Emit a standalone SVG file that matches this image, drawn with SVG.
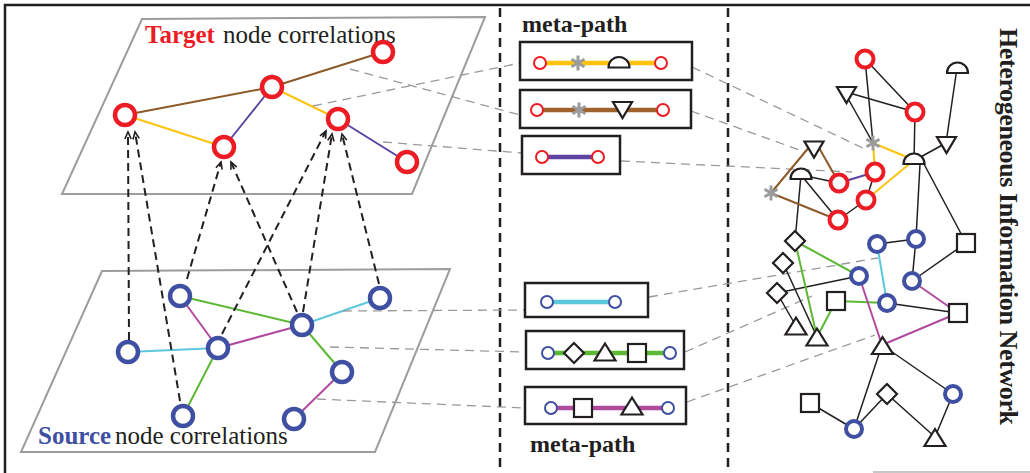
<svg xmlns="http://www.w3.org/2000/svg" width="1030" height="473" viewBox="0 0 1030 473">
  <defs>
    <style>
      .frame{fill:none;stroke:#231f20;stroke-width:2.5}
      .divider{fill:none;stroke:#231f20;stroke-width:2.5;stroke-dasharray:9 6}
      .plane{fill:#fff;stroke:#9d9d9d;stroke-width:2}
      .tn{fill:#fff;stroke:#ed1c24;stroke-width:4.5}
      .sn{fill:#fff;stroke:#3f4fa2;stroke-width:4.5}
      .hr{fill:#fff;stroke:#ed1c24;stroke-width:4}
      .hb{fill:#fff;stroke:#3f4fa2;stroke-width:4}
      .mr{fill:#fff;stroke:#ed1c24;stroke-width:2}
      .mb{fill:#fff;stroke:#3f4fa2;stroke-width:2}
      .shape{fill:#fff;stroke:#231f20;stroke-width:2.2}
      .box{fill:#fff;stroke:#231f20;stroke-width:2.5}
      .e{fill:none;stroke-width:2}
      .k{stroke:#231f20;stroke-width:1.5}
      .brown{stroke:#8c5a28}
      .yellow{stroke:#ffc20e}
      .purple{stroke:#5b45a0}
      .green{stroke:#5db833}
      .magenta{stroke:#b04a9f}
      .cyan{stroke:#5bc8dc}
      .mp{fill:none;stroke-width:4.5}
      .arrow{fill:none;stroke:#231f20;stroke-width:2;stroke-dasharray:8 5;marker-end:url(#ah)}
      .link{fill:none;stroke:#9a9a9a;stroke-width:1.3;stroke-dasharray:9 6}
      .title{font-family:"Liberation Serif","Times New Roman",serif;font-size:25px}
      .mtitle{font-family:"Liberation Serif","Times New Roman",serif;font-size:24px;font-weight:bold;fill:#231f20}
    </style>
    <marker id="ah" markerUnits="userSpaceOnUse" markerWidth="10" markerHeight="10" refX="8" refY="4" orient="auto" viewBox="0 0 10 8">
      <path d="M1,0.8 L8,4 L1,7.2" fill="none" stroke="#231f20" stroke-width="1.6" stroke-dasharray="none"/>
    </marker>
    <g id="ast" fill="none" stroke="#9b9b9b" stroke-width="3">
      <path d="M0,-7.5 V7.5 M-6.5,-3.8 L6.5,3.8 M-6.5,3.8 L6.5,-3.8"/>
    </g>
    <path id="dome" class="shape" d="M-10.5,0 A10.5,10.5 0 0 1 10.5,0 Z"/>
    <polygon id="tdown" class="shape" points="-9.5,-8 9.5,-8 0,8"/>
    <polygon id="tup" class="shape" points="0,-8.5 -10.5,8.5 10.5,8.5"/>
    <polygon id="dia" class="shape" points="0,-10 10,0 0,10 -10,0"/>
    <rect id="sq" class="shape" x="-9" y="-9" width="18" height="18"/>
  </defs>

  <rect width="1030" height="473" fill="#fff"/>

  <!-- outer frame and panel dividers -->
  <g id="frame">
    <path class="frame" d="M5,473 V5 H1030"/>
    <path d="M873,472 H1030" stroke="#b5b5b5" stroke-width="1.5"/>
    <line class="divider" x1="500" y1="8" x2="500" y2="473"/>
    <line class="divider" x1="728" y1="8" x2="728" y2="473"/>
  </g>

  <!-- planes -->
  <g id="target-plane">
    <polygon class="plane" points="142,19 485,17 412,194 62,194"/>
    <text class="title" x="145" y="43"><tspan fill="#ed1c24" font-weight="bold">Target</tspan><tspan fill="#231f20" x="223">node correlations</tspan></text>
  </g>
  <g id="source-plane">
    <polygon class="plane" points="102,271 450,269 375,452 21,452"/>
    <text class="title" x="38" y="444"><tspan fill="#3f4fa2" font-weight="bold">Source</tspan><tspan fill="#231f20" x="115">node correlations</tspan></text>
  </g>

  <!-- connectors -->
  <g id="connectors">
    <!-- target correlations -->
    <line class="e brown" x1="125" y1="115" x2="272" y2="87"/>
    <line class="e brown" x1="272" y1="87" x2="383" y2="52"/>
    <line class="e yellow" x1="125" y1="115" x2="224" y2="147"/>
    <line class="e yellow" x1="272" y1="87" x2="338" y2="119"/>
    <line class="e purple" x1="224" y1="147" x2="272" y2="87"/>
    <line class="e purple" x1="338" y1="119" x2="407" y2="162"/>
    <!-- source correlations -->
    <line class="e green" x1="180" y1="296" x2="302" y2="325"/>
    <line class="e magenta" x1="180" y1="296" x2="218" y2="348"/>
    <line class="e magenta" x1="218" y1="348" x2="302" y2="325"/>
    <line class="e cyan" x1="128" y1="352" x2="218" y2="348"/>
    <line class="e cyan" x1="302" y1="325" x2="380" y2="298"/>
    <line class="e green" x1="302" y1="325" x2="342" y2="372"/>
    <line class="e green" x1="218" y1="348" x2="183" y2="416"/>
    <line class="e magenta" x1="342" y1="372" x2="294" y2="419"/>
    <!-- source to target projections -->
    <line class="arrow" x1="129" y1="340" x2="128" y2="132"/>
    <line class="arrow" x1="180" y1="401" x2="135" y2="132"/>
    <line class="arrow" x1="187" y1="279" x2="221" y2="162"/>
    <line class="arrow" x1="297" y1="312" x2="231" y2="162"/>
    <line class="arrow" x1="222" y1="334" x2="326" y2="131"/>
    <line class="arrow" x1="303" y1="312" x2="332" y2="134"/>
    <line class="arrow" x1="379" y1="284" x2="342" y2="134"/>
    <!-- meta-path links -->
    <line class="link" x1="350" y1="69" x2="520" y2="115"/>
    <line class="link" x1="313" y1="106" x2="520" y2="63"/>
    <line class="link" x1="383" y1="142" x2="522" y2="153"/>
    <line class="link" x1="692" y1="67" x2="867" y2="150"/>
    <line class="link" x1="691" y1="111" x2="805" y2="152"/>
    <line class="link" x1="621" y1="161" x2="852" y2="172"/>
    <line class="link" x1="343" y1="311" x2="525" y2="310"/>
    <line class="link" x1="330" y1="347" x2="526" y2="352"/>
    <line class="link" x1="317" y1="399" x2="525" y2="408"/>
    <line class="link" x1="649" y1="297" x2="878" y2="258"/>
    <line class="link" x1="685" y1="352" x2="812" y2="296"/>
    <line class="link" x1="687" y1="402" x2="875" y2="335"/>
    <!-- heterogeneous network links -->
    <g class="e">
      <line class="k" x1="865" y1="59" x2="873" y2="143"/>
      <line class="k" x1="865" y1="59" x2="915" y2="112"/>
      <line class="k" x1="846" y1="92" x2="915" y2="112"/>
      <line class="k" x1="846" y1="95" x2="873" y2="143"/>
      <line class="k" x1="915" y1="112" x2="914" y2="160"/>
      <line class="k" x1="917" y1="159" x2="946" y2="143"/>
      <line class="k" x1="946" y1="143" x2="957" y2="68"/>
      <line class="k" x1="875" y1="172" x2="866" y2="200"/>
      <line class="k" x1="866" y1="200" x2="838" y2="220"/>
      <line class="k" x1="801" y1="175" x2="839" y2="183"/>
      <line class="k" x1="801" y1="175" x2="838" y2="220"/>
      <line class="k" x1="801" y1="175" x2="795" y2="241"/>
      <line class="k" x1="920" y1="164" x2="916" y2="239"/>
      <line class="k" x1="924" y1="164" x2="966" y2="243"/>
      <line class="k" x1="783" y1="263" x2="817" y2="337"/>
      <line class="k" x1="777" y1="293" x2="859" y2="276"/>
      <line class="k" x1="777" y1="293" x2="796" y2="326"/>
      <line class="k" x1="877" y1="244" x2="916" y2="239"/>
      <line class="k" x1="916" y1="239" x2="912" y2="281"/>
      <line class="k" x1="912" y1="281" x2="966" y2="243"/>
      <line class="k" x1="887" y1="303" x2="958" y2="313"/>
      <line class="k" x1="882" y1="345" x2="854" y2="429"/>
      <line class="k" x1="882" y1="345" x2="953" y2="394"/>
      <line class="k" x1="810" y1="403" x2="854" y2="429"/>
      <line class="k" x1="854" y1="429" x2="887" y2="394"/>
      <line class="k" x1="887" y1="394" x2="935" y2="437"/>
      <line class="k" x1="953" y1="394" x2="935" y2="437"/>
      <line class="yellow" x1="873" y1="143" x2="875" y2="172"/>
      <line class="yellow" x1="873" y1="143" x2="914" y2="160"/>
      <line class="yellow" x1="914" y1="160" x2="866" y2="200"/>
      <line class="purple" x1="875" y1="172" x2="839" y2="183"/>
      <line class="brown" x1="810" y1="146" x2="771" y2="193"/>
      <line class="brown" x1="818" y1="146" x2="839" y2="183"/>
      <line class="brown" x1="771" y1="193" x2="838" y2="220"/>
      <line class="green" x1="795" y1="241" x2="859" y2="276"/>
      <line class="green" x1="795" y1="241" x2="817" y2="337"/>
      <line class="green" x1="836" y1="301" x2="817" y2="337"/>
      <line class="green" x1="836" y1="301" x2="887" y2="303"/>
      <line class="cyan" x1="877" y1="244" x2="887" y2="303"/>
      <line class="magenta" x1="912" y1="281" x2="958" y2="313"/>
      <line class="magenta" x1="859" y1="276" x2="882" y2="345"/>
      <line class="magenta" x1="958" y1="313" x2="882" y2="345"/>
    </g>
  </g>

  <!-- target nodes -->
  <g id="t1"><circle class="tn" cx="125" cy="115" r="10"/></g>
  <g id="t2"><circle class="tn" cx="272" cy="87" r="10"/></g>
  <g id="t3"><circle class="tn" cx="383" cy="52" r="10"/></g>
  <g id="t4"><circle class="tn" cx="224" cy="147" r="10"/></g>
  <g id="t5"><circle class="tn" cx="338" cy="119" r="10"/></g>
  <g id="t6"><circle class="tn" cx="407" cy="162" r="10"/></g>

  <!-- source nodes -->
  <g id="s1"><circle class="sn" cx="180" cy="296" r="10"/></g>
  <g id="s2"><circle class="sn" cx="380" cy="298" r="10"/></g>
  <g id="s3"><circle class="sn" cx="302" cy="325" r="10"/></g>
  <g id="s4"><circle class="sn" cx="128" cy="352" r="10"/></g>
  <g id="s5"><circle class="sn" cx="218" cy="348" r="10"/></g>
  <g id="s6"><circle class="sn" cx="342" cy="372" r="10"/></g>
  <g id="s7"><circle class="sn" cx="183" cy="416" r="10"/></g>
  <g id="s8"><circle class="sn" cx="294" cy="419" r="10"/></g>

  <!-- meta-paths -->
  <text class="mtitle" x="522" y="32">meta-path</text>
  <text class="mtitle" x="530" y="452">meta-path</text>
  <g id="mp1">
    <rect class="box" x="520" y="42" width="172" height="38"/>
    <line class="mp yellow" x1="540" y1="63" x2="661" y2="63"/>
    <use href="#ast" x="578" y="63"/>
    <use href="#dome" x="619" y="67.5"/>
    <circle class="mr" cx="540" cy="63" r="6"/>
    <circle class="mr" cx="661" cy="63" r="6"/>
  </g>
  <g id="mp2">
    <rect class="box" x="520" y="90" width="171" height="38"/>
    <line class="mp" stroke="#a0622d" x1="537" y1="110" x2="663" y2="110"/>
    <use href="#ast" x="579" y="110"/>
    <use href="#tdown" x="622.5" y="110"/>
    <circle class="mr" cx="537" cy="110" r="6"/>
    <circle class="mr" cx="663" cy="110" r="6"/>
  </g>
  <g id="mp3">
    <rect class="box" x="522" y="136" width="98" height="38"/>
    <line class="mp purple" x1="542" y1="157" x2="598" y2="157"/>
    <circle class="mr" cx="542" cy="157" r="6"/>
    <circle class="mr" cx="598" cy="157" r="6"/>
  </g>
  <g id="mp4">
    <rect class="box" x="525" y="283" width="123" height="34"/>
    <line class="mp cyan" x1="547" y1="302" x2="615" y2="302"/>
    <circle class="mb" cx="547" cy="302" r="6"/>
    <circle class="mb" cx="615" cy="302" r="6"/>
  </g>
  <g id="mp5">
    <rect class="box" x="526" y="331" width="158" height="38"/>
    <line class="mp green" x1="548" y1="353" x2="670" y2="353"/>
    <use href="#dia" x="574" y="353"/>
    <use href="#tup" x="605" y="352"/>
    <use href="#sq" x="637" y="353"/>
    <circle class="mb" cx="548" cy="353" r="6"/>
    <circle class="mb" cx="670" cy="353" r="6"/>
  </g>
  <g id="mp6">
    <rect class="box" x="525" y="387" width="161" height="37"/>
    <line class="mp magenta" x1="551" y1="408" x2="668" y2="408"/>
    <use href="#sq" x="583" y="408"/>
    <use href="#tup" x="632" y="406"/>
    <circle class="mb" cx="551" cy="408" r="6"/>
    <circle class="mb" cx="668" cy="408" r="6"/>
  </g>

  <!-- heterogeneous information network nodes -->
  <g id="r1"><circle class="hr" cx="865" cy="59" r="8.5"/></g>
  <g id="r2"><circle class="hr" cx="915" cy="112" r="8.5"/></g>
  <g id="r3"><circle class="hr" cx="875" cy="172" r="8.5"/></g>
  <g id="r4"><circle class="hr" cx="839" cy="183" r="8.5"/></g>
  <g id="r5"><circle class="hr" cx="866" cy="200" r="8.5"/></g>
  <g id="r6"><circle class="hr" cx="838" cy="220" r="8.5"/></g>
  <g id="a1"><use href="#ast" x="873" y="143"/></g>
  <g id="a2"><use href="#ast" x="771" y="193"/></g>
  <g id="h1"><use href="#dome" x="957.5" y="73"/></g>
  <g id="h2"><use href="#dome" x="914" y="164"/></g>
  <g id="h3"><use href="#dome" x="801" y="179"/></g>
  <g id="v1"><use href="#tdown" x="846.5" y="95"/></g>
  <g id="v2"><use href="#tdown" x="946.5" y="145"/></g>
  <g id="v3"><use href="#tdown" x="814" y="149.5"/></g>
  <g id="d1"><use href="#dia" x="795" y="241"/></g>
  <g id="d2"><use href="#dia" x="783" y="263"/></g>
  <g id="d3"><use href="#dia" x="777" y="293"/></g>
  <g id="d4"><use href="#dia" x="887" y="394"/></g>
  <g id="u1"><use href="#tup" x="796" y="326"/></g>
  <g id="u2"><use href="#tup" x="817" y="337"/></g>
  <g id="u3"><use href="#tup" x="882.5" y="345.5"/></g>
  <g id="u4"><use href="#tup" x="935" y="437.5"/></g>
  <g id="q1"><use href="#sq" x="966" y="243"/></g>
  <g id="q2"><use href="#sq" x="836" y="301"/></g>
  <g id="q3"><use href="#sq" x="958" y="313"/></g>
  <g id="q4"><use href="#sq" x="810" y="403"/></g>
  <g id="b1"><circle class="hb" cx="877" cy="244" r="8"/></g>
  <g id="b2"><circle class="hb" cx="916" cy="239" r="8"/></g>
  <g id="b3"><circle class="hb" cx="912" cy="281" r="8"/></g>
  <g id="b4"><circle class="hb" cx="859" cy="276" r="8"/></g>
  <g id="b5"><circle class="hb" cx="887" cy="303" r="8"/></g>
  <g id="b6"><circle class="hb" cx="953" cy="394" r="8"/></g>
  <g id="b7"><circle class="hb" cx="854" cy="429" r="8"/></g>

  <text transform="translate(1000,28) rotate(90)" font-family="'Liberation Serif','Times New Roman',serif" font-size="26" font-weight="bold" fill="#231f20" textLength="397" lengthAdjust="spacing">Heterogeneous Information Network</text>
</svg>
